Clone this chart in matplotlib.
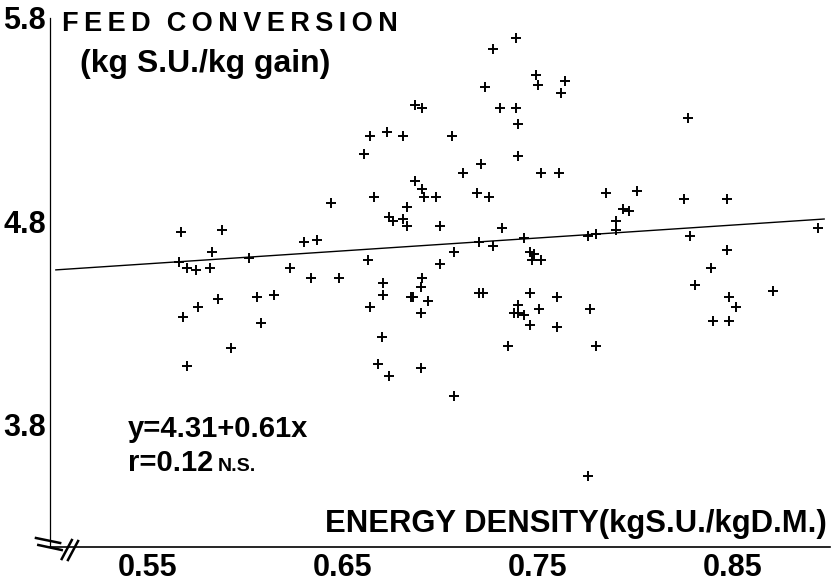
import matplotlib
matplotlib.use("Agg")
import matplotlib.pyplot as plt

# energy density (kg S.U./kg DM) vs feed conversion (kg S.U./kg gain)
x_energy = [
    0.567, 0.588, 0.583, 0.566, 0.570, 0.575, 0.582, 0.602, 0.623, 0.586,
    0.606, 0.615, 0.568, 0.576, 0.608, 0.593, 0.570, 0.630, 0.637, 0.634,
    0.648, 0.644, 0.661, 0.664, 0.673, 0.681, 0.687, 0.691, 0.706, 0.666,
    0.687, 0.691, 0.692, 0.698, 0.683, 0.674, 0.676, 0.681, 0.683, 0.700,
    0.663, 0.671, 0.671, 0.691, 0.690, 0.685, 0.686, 0.694, 0.664, 0.690,
    0.670, 0.668, 0.674, 0.690, 0.707, 0.700, 0.707, 0.712, 0.721, 0.719,
    0.725, 0.720, 0.720, 0.722, 0.727, 0.739, 0.723, 0.731, 0.739, 0.740,
    0.749, 0.750, 0.764, 0.762, 0.740, 0.752, 0.761, 0.732, 0.743, 0.727,
    0.746, 0.748, 0.747, 0.752, 0.746, 0.760, 0.740, 0.738, 0.740, 0.743,
    0.751, 0.746, 0.760, 0.735, 0.777, 0.780, 0.776, 0.776, 0.780, 0.790,
    0.790, 0.785, 0.801, 0.794, 0.797, 0.827, 0.825, 0.847, 0.894, 0.828,
    0.847, 0.839, 0.831, 0.848, 0.871, 0.852, 0.840, 0.848]
y_feed = [
    4.75, 4.76, 4.65, 4.60, 4.57, 4.56, 4.57, 4.62, 4.57, 4.42,
    4.43, 4.44, 4.33, 4.38, 4.30, 4.18, 4.09, 4.70, 4.71, 4.52,
    4.52, 4.89, 5.13, 5.22, 5.24, 5.22, 5.37, 5.36, 5.22, 4.92,
    5.00, 4.96, 4.92, 4.92, 4.87, 4.82, 4.80, 4.81, 4.78, 4.78,
    4.61, 4.50, 4.44, 4.52, 4.48, 4.43, 4.43, 4.41, 4.38, 4.35,
    4.23, 4.10, 4.04, 4.08, 3.94, 4.59, 4.65, 5.04, 5.08, 4.94,
    4.92, 4.70, 4.45, 4.45, 5.65, 5.70, 5.46, 5.36, 5.36, 5.28,
    5.52, 5.47, 5.49, 5.43, 5.12, 5.04, 5.04, 4.77, 4.72, 4.68,
    4.65, 4.64, 4.61, 4.61, 4.45, 4.43, 4.39, 4.35, 4.35, 4.34,
    4.37, 4.29, 4.28, 4.19, 4.37, 4.19, 3.55, 4.73, 4.74, 4.80,
    4.76, 4.94, 4.95, 4.86, 4.85, 5.31, 4.91, 4.91, 4.77, 4.73,
    4.66, 4.57, 4.49, 4.43, 4.46, 4.38, 4.31, 4.31]

# fitted line as drawn on the figure
line_x = [0.503, 0.897]
line_y = [4.562, 4.812]

x_ticks = [0.55, 0.65, 0.75, 0.85]
x_ticklabels = ["0.55", "0.65", "0.75", "0.85"]
y_ticks = [3.8, 4.8, 5.8]
y_ticklabels = ["3.8", "4.8", "5.8"]

FONT = "Liberation Sans"
TS = "\u2009"

fig = plt.figure(figsize=(8.31, 5.81), dpi=100)
ax = fig.add_axes([50/831, 1 - 547/581, 780/831, 529/581])
ax.set_xlim(0.50, 0.90)
ax.set_ylim(3.2, 5.8)

ax.plot(x_energy, y_feed, ls="none", marker="+", ms=7.2, mew=1.4, color="black")
ax.plot(line_x, line_y, color="black", lw=1.0)

for s in ["top", "right"]:
    ax.spines[s].set_visible(False)
ax.spines["left"].set_linewidth(0.9)
ax.spines["bottom"].set_linewidth(1.2)

ax.set_xticks(x_ticks)
ax.set_xticklabels(x_ticklabels, fontsize=22, fontweight="bold", family=FONT)
ax.set_yticks(y_ticks)
ax.set_yticklabels(y_ticklabels, fontsize=22, fontweight="bold", family=FONT)
ax.tick_params(axis="x", length=0, pad=4)
ax.tick_params(axis="y", length=0, pad=3)

ax.text(0.015, 0.975, TS.join("FEED") + TS * 3 + TS.join("CONVERSION"),
        transform=ax.transAxes, fontsize=19.5, fontweight="bold", family=FONT,
        ha="left", va="baseline")
ax.text(0.038, 0.898, "(kg S.U./kg gain)", transform=ax.transAxes,
        fontsize=23, fontweight="bold", family=FONT, ha="left", va="baseline")
ax.text(0.996, 0.028, "ENERGY DENSITY(kgS.U./kgD.M.)", transform=ax.transAxes,
        fontsize=22.3, fontweight="bold", family=FONT, ha="right", va="baseline")
ax.text(0.100, 0.208, "y=4.31+0.61x", transform=ax.transAxes,
        fontsize=21, fontweight="bold", family=FONT, ha="left", va="baseline")
ax.text(0.100, 0.144, "r=0.12", transform=ax.transAxes,
        fontsize=21, fontweight="bold", family=FONT, ha="left", va="baseline")
ax.text(0.215, 0.144, "N.S.", transform=ax.transAxes,
        fontsize=14, fontweight="bold", family=FONT, ha="left", va="baseline")

# axis break marks
for (x0, y0), (x1, y1) in [((-0.018, 0.017), (0.013, 0.0076)),
                           ((-0.015, 0.0038), (0.015, -0.0057)),
                           ((0.015, -0.0227), (0.028, 0.0132)),
                           ((0.023, -0.0246), (0.036, 0.0113))]:
    ax.plot([x0, x1], [y0, y1], transform=ax.transAxes, color="black",
            lw=1.8, clip_on=False)

fig.savefig("out.png", dpi=100, facecolor="white")
